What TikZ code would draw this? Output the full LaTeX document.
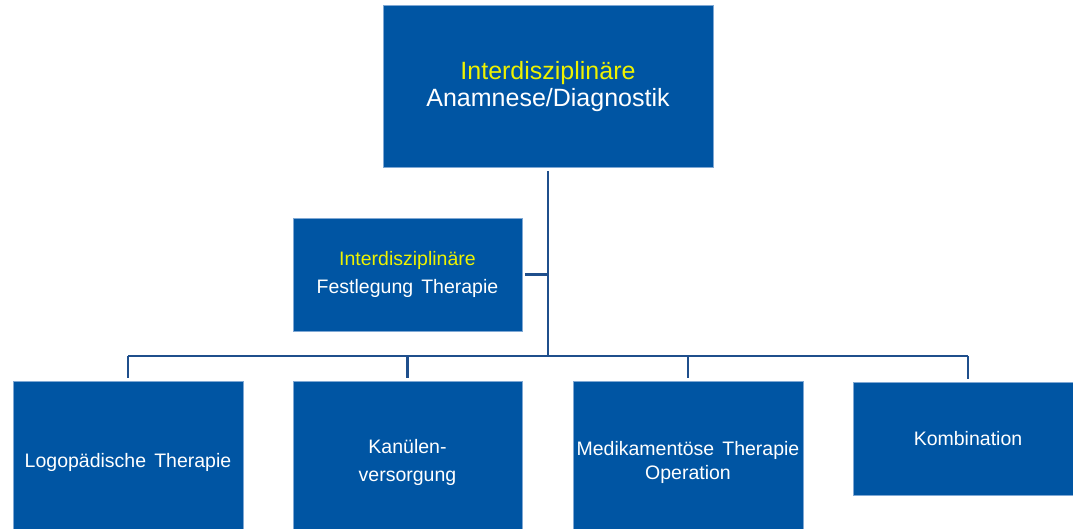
\documentclass[tikz,border=0pt]{standalone}
\usepackage{fontspec}
\setmainfont{Liberation Sans}[WordSpace=1.5]
\definecolor{boxblue}{HTML}{0055A3}
\definecolor{boxedge}{HTML}{7FA8D4}
\definecolor{linkblue}{HTML}{1F4F8C}
\definecolor{hiyellow}{HTML}{EEF200}
\begin{document}
\begin{tikzpicture}[x=1pt,y=-1pt,
  box/.style={draw=boxedge,line width=0.8pt,fill=boxblue,text=white,align=center,inner sep=0pt},
  small/.style={font=\fontsize{19.5}{28}\selectfont},
  smallb/.style={font=\fontsize{19.5}{24}\selectfont},
  link/.style={draw=linkblue,line width=2.5pt}]
\useasboundingbox[fill=white] (0,0) rectangle (1073,529);
\node[box,minimum width=330pt,minimum height=162pt,font=\fontsize{25}{27}\selectfont] (top) at (548,86.5)
  {\textcolor{hiyellow}{Interdisziplinäre}\\Anamnese/Diagnostik};
\node[box,small,minimum width=229pt,minimum height=113pt] (fest) at (407.5,274.5)
  {\textcolor{hiyellow}{Interdisziplinäre}\\Festlegung Therapie};
\node[box,smallb,minimum width=230pt,minimum height=162pt] (logo) at (128,462) {Logopädische Therapie};
\node[box,small,minimum width=229pt,minimum height=162pt] (kan) at (407.5,462) {Kanülen-\\versorgung};
\node[box,smallb,minimum width=230pt,minimum height=162pt] (med) at (688,462) {Medikamentöse Therapie\\Operation};
\node[box,smallb,minimum width=230pt,minimum height=113pt] (komb) at (968,438.5) {Kombination};
\coordinate (bus) at (548,356);
\draw[link,shorten <=3pt] (top.south) -- (bus);
\draw[link,shorten <=3pt] (fest.east) -- (fest.east -| bus);
\draw[link,line join=miter] (logo.north |- bus) -- (komb.north |- bus);
\foreach \b in {logo,kan,med,komb}
  \draw[link,shorten >=3pt] (\b.north |- bus) -- (\b.north);
\end{tikzpicture}
\end{document}
